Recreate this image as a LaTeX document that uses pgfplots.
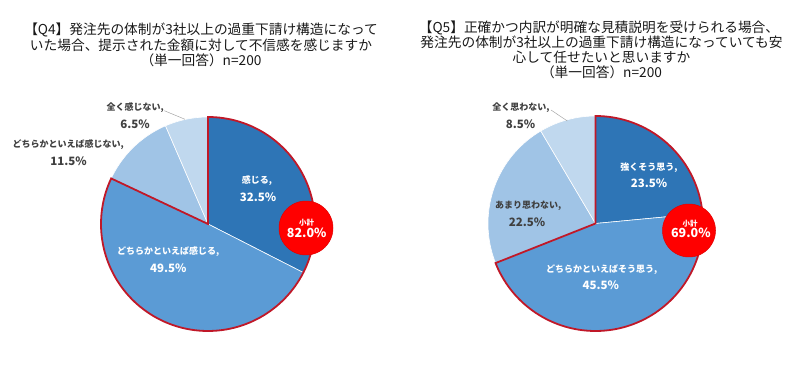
\documentclass[border=0pt]{standalone}
\usepackage{pgfplots}
\usepackage{pgfplotstable}
\pgfplotsset{compat=1.18}
\usepackage{fontspec}
\setmainfont{Noto Sans CJK JP}

\definecolor{s1}{RGB}{46,117,182}
\definecolor{s2}{RGB}{91,155,213}
\definecolor{s3}{RGB}{160,196,230}
\definecolor{s4}{RGB}{192,216,238}
\definecolor{redline}{RGB}{192,24,40}
\definecolor{txt}{RGB}{64,64,64}

% Q4 values (%)
\pgfplotstableread{
val
32.5
49.5
11.5
6.5
}\qfour
% Q5 values (%)
\pgfplotstableread{
val
23.5
45.5
22.5
8.5
}\qfive

\tikzset{
  lbl/.style={inner sep=0pt, text height=0.88em, text depth=0.12em, anchor=center},
  ttl/.style={lbl, font=\fontsize{13.7}{15}\selectfont, text=black!90},
  jl/.style={lbl, font=\fontsize{9}{10}\selectfont\bfseries},
  pl/.style={lbl, font=\fontsize{11.5}{12}\selectfont\bfseries},
}

\begin{document}%
\begin{tikzpicture}%
% cumulative angles, clockwise from 12 o'clock
\pgfplotstablegetelem{0}{val}\of\qfour \pgfmathsetmacro\La{90-3.6*\pgfplotsretval}%
\pgfplotstablegetelem{1}{val}\of\qfour \pgfmathsetmacro\Lb{\La-3.6*\pgfplotsretval}%
\pgfplotstablegetelem{2}{val}\of\qfour \pgfmathsetmacro\Lc{\Lb-3.6*\pgfplotsretval}%
\pgfplotstablegetelem{3}{val}\of\qfour \pgfmathsetmacro\Ld{\Lc-3.6*\pgfplotsretval}%
\pgfplotstablegetelem{0}{val}\of\qfive \pgfmathsetmacro\Ra{90-3.6*\pgfplotsretval}%
\pgfplotstablegetelem{1}{val}\of\qfive \pgfmathsetmacro\Rb{\Ra-3.6*\pgfplotsretval}%
\pgfplotstablegetelem{2}{val}\of\qfive \pgfmathsetmacro\Rc{\Rb-3.6*\pgfplotsretval}%
\pgfplotstablegetelem{3}{val}\of\qfive \pgfmathsetmacro\Rd{\Rc-3.6*\pgfplotsretval}%
\begin{axis}[width=800pt, height=367pt, scale only axis,
  xmin=0, xmax=800, ymin=0, ymax=367, hide axis, clip=false]
\coordinate (BL) at (axis cs:0,0);
\coordinate (TR) at (axis cs:800,367);

% ---------- Left pie (Q4) ----------
\addplot[fill=s1, draw=white, line width=0.6pt, domain=\La:90, samples=60]
  ({208+107*cos(x)},{143+107*sin(x)}) -- (axis cs:208,143) -- cycle;
\addplot[fill=s2, draw=white, line width=0.6pt, domain=\Lb:\La, samples=80]
  ({208+107*cos(x)},{143+107*sin(x)}) -- (axis cs:208,143) -- cycle;
\addplot[fill=s3, draw=white, line width=0.6pt, domain=\Lc:\Lb, samples=40]
  ({208+107*cos(x)},{143+107*sin(x)}) -- (axis cs:208,143) -- cycle;
\addplot[fill=s4, draw=white, line width=0.6pt, domain=\Ld:\Lc, samples=30]
  ({208+107*cos(x)},{143+107*sin(x)}) -- (axis cs:208,143) -- cycle;
\addplot[draw=redline, line width=1.8pt, domain=\Lb:90, samples=140]
  ({208+107*cos(x)},{143+107*sin(x)}) -- (axis cs:208,143) -- cycle;
% subtotal bubble (82.0 = 32.5 + 49.5)
\addplot[fill=red, draw=red!88!black, line width=0.5pt, domain=0:360, samples=90]
  ({306+27*cos(x)},{139+27*sin(x)}) -- cycle;
\addplot[black!35, line width=0.5pt] coordinates {(164.3,256.3) (185,247.7)};

\node[jl, text=white] at (axis cs:257,187.5) {感じる,};
\node[pl, text=white] at (axis cs:258,169.5) {32.5\%};
\node[jl, text=white] at (axis cs:168.3,116) {どちらかといえば感じる,};
\node[pl, text=white] at (axis cs:168.3,98.7) {49.5\%};
\node[jl, text=txt] at (axis cs:68.3,223) {どちらかといえば感じない,};
\node[pl, text=txt] at (axis cs:68.5,205.3) {11.5\%};
\node[jl, text=txt] at (axis cs:135.3,260.3) {全く感じない,};
\node[pl, text=txt] at (axis cs:135,242.7) {6.5\%};
\node[lbl, text=white, font=\fontsize{7.5}{8}\selectfont\bfseries] at (axis cs:306.5,145.3) {小計};
\node[lbl, text=white, font=\fontsize{12.5}{13}\selectfont\bfseries] at (axis cs:306.7,133.5) {82.0\%};

% ---------- Right pie (Q5) ----------
\addplot[fill=s1, draw=white, line width=0.6pt, domain=\Ra:90, samples=60]
  ({595.5+107.5*cos(x)},{143.5+107.5*sin(x)}) -- (axis cs:595.5,143.5) -- cycle;
\addplot[fill=s2, draw=white, line width=0.6pt, domain=\Rb:\Ra, samples=80]
  ({595.5+107.5*cos(x)},{143.5+107.5*sin(x)}) -- (axis cs:595.5,143.5) -- cycle;
\addplot[fill=s3, draw=white, line width=0.6pt, domain=\Rc:\Rb, samples=50]
  ({595.5+107.5*cos(x)},{143.5+107.5*sin(x)}) -- (axis cs:595.5,143.5) -- cycle;
\addplot[fill=s4, draw=white, line width=0.6pt, domain=\Rd:\Rc, samples=30]
  ({595.5+107.5*cos(x)},{143.5+107.5*sin(x)}) -- (axis cs:595.5,143.5) -- cycle;
\addplot[draw=redline, line width=1.8pt, domain=\Rb:90, samples=140]
  ({595.5+107.5*cos(x)},{143.5+107.5*sin(x)}) -- (axis cs:595.5,143.5) -- cycle;
% subtotal bubble (69.0 = 23.5 + 45.5)
\addplot[fill=red, draw=red!88!black, line width=0.5pt, domain=0:360, samples=90]
  ({689+26.5*cos(x)},{136.5+26.5*sin(x)}) -- cycle;
\addplot[black!35, line width=0.5pt] coordinates {(551,257) (567.3,246)};

\node[jl, text=white] at (axis cs:649,200.3) {強くそう思う,};
\node[pl, text=white] at (axis cs:649,183) {23.5\%};
\node[jl, text=white] at (axis cs:601.7,98.7) {どちらかといえばそう思う,};
\node[pl, text=white] at (axis cs:600.7,81) {45.5\%};
\node[jl, text=txt] at (axis cs:528.3,162) {あまり思わない,};
\node[pl, text=txt] at (axis cs:527,144.7) {22.5\%};
\node[jl, text=txt] at (axis cs:521,260.3) {全く思わない,};
\node[pl, text=txt] at (axis cs:520.5,242.7) {8.5\%};
\node[lbl, text=white, font=\fontsize{7.5}{8}\selectfont\bfseries] at (axis cs:690,144.7) {小計};
\node[lbl, text=white, font=\fontsize{12.5}{13}\selectfont\bfseries] at (axis cs:690.8,133) {69.0\%};

% ---------- Titles ----------
\node[ttl] at (axis cs:201,336) {【Q4】発注先の体制が3社以上の過重下請け構造になって};
\node[ttl] at (axis cs:201,320.5) {いた場合、提示された金額に対して不信感を感じますか};
\node[ttl] at (axis cs:201,305) {（単一回答）n=200};
\node[ttl] at (axis cs:599,338) {【Q5】正確かつ内訳が明確な見積説明を受けられる場合、};
\node[ttl] at (axis cs:601.5,323) {発注先の体制が3社以上の過重下請け構造になっていても安};
\node[ttl] at (axis cs:601.5,308) {心して任せたいと思いますか};
\node[ttl] at (axis cs:601.5,293) {（単一回答）n=200};
\end{axis}
\pgfresetboundingbox
\path (BL) rectangle (TR);
\end{tikzpicture}%
\end{document}
